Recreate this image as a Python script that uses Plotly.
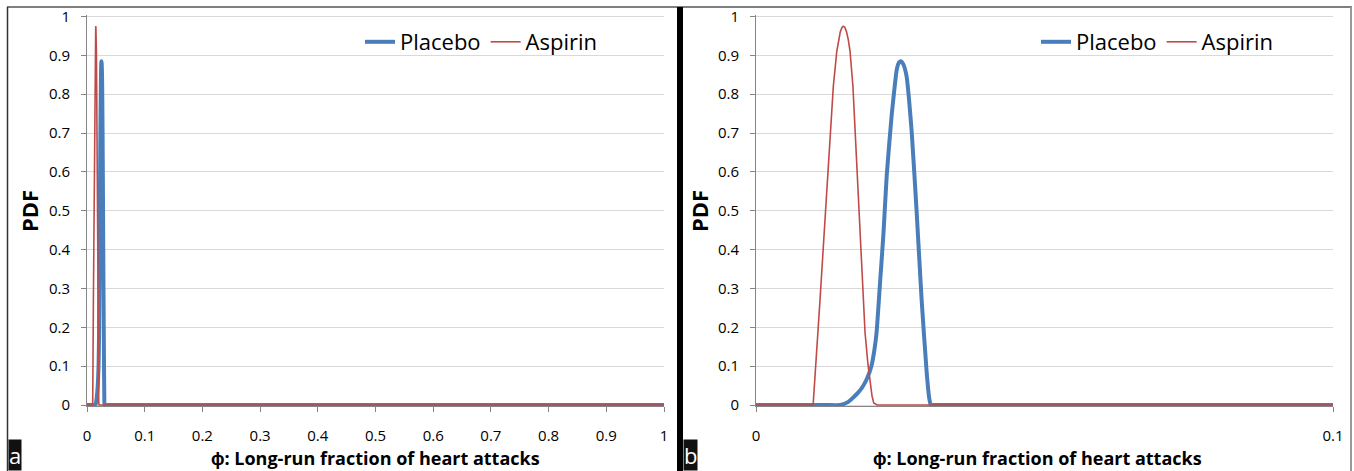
import plotly.graph_objects as go

# ---- data ----
placebo_x = [0, 0.005, 0.0120, 0.0146, 0.0160, 0.0169, 0.0177, 0.0184, 0.0192, 0.0200, 0.0205,
             0.0209, 0.0215, 0.0221, 0.02265, 0.0235, 0.0240, 0.0244, 0.0248, 0.0251, 0.0255,
             0.0261, 0.0265, 0.0270, 0.02785, 0.0287, 0.02958, 0.0300, 0.0303, 0.0310,
             0.0330, 0.0500, 0.2, 0.5, 0.8, 1.0]
placebo_y = [0, 0, 0, 0, 0.008, 0.02, 0.032, 0.045, 0.067, 0.10, 0.14,
             0.187, 0.315, 0.444, 0.59, 0.744, 0.815, 0.864, 0.882, 0.885, 0.878,
             0.846, 0.79, 0.70, 0.495, 0.272, 0.084, 0.02, 0, 0,
             0, 0, 0, 0, 0, 0]

aspirin_x = [0, 0.0099, 0.0111, 0.0120, 0.0128, 0.0134, 0.0140, 0.0143, 0.0146, 0.0149,
             0.0151, 0.0154, 0.0157, 0.0160, 0.0163, 0.0168, 0.0172, 0.0180, 0.0189, 0.0194,
             0.0198, 0.0201, 0.0204, 0.0210, 1.0]
aspirin_y = [0, 0, 0.272, 0.486, 0.70, 0.82, 0.91, 0.94, 0.96, 0.972,
             0.975, 0.972, 0.96, 0.94, 0.91, 0.82, 0.70, 0.443, 0.186, 0.105,
             0.058, 0.024, 0.005, 0, 0]

series_names = ["Placebo", "Aspirin"]
x_title = "ϕ: Long-run fraction of heart attacks"
y_title = "PDF"
panel_labels = ["a", "b"]

BLUE = "#4a7ebb"
RED = "#be4b48"
FONT = "'Open Sans', sans-serif"
W, H = 1354, 471

def fx(px):
    return px / W

def fy(py):
    return (H - py) / H

fig = go.Figure()

for xa, ya, leg in [("x", "y", "legend"), ("x2", "y2", "legend2")]:
    fig.add_trace(go.Scatter(x=placebo_x, y=placebo_y, mode="lines", name=series_names[0],
                             line=dict(color=BLUE, width=4, shape="spline", smoothing=0.5),
                             xaxis=xa, yaxis=ya, legend=leg))
    fig.add_trace(go.Scatter(x=aspirin_x, y=aspirin_y, mode="lines", name=series_names[1],
                             line=dict(color=RED, width=1.6, shape="linear"),
                             xaxis=xa, yaxis=ya, legend=leg))

ydom = [fy(406.17), fy(15.33)]
axis_common = dict(showline=True, linecolor="#868686", linewidth=1, ticks="outside",
                   ticklen=5, tickcolor="#868686",
                   tickfont=dict(family=FONT, size=15, color="#000"),
                   zeroline=False, automargin=False)

fig.update_layout(
    width=W, height=H,
    margin=dict(l=0, r=0, t=0, b=0, autoexpand=False),
    paper_bgcolor="white", plot_bgcolor="white",
    xaxis=dict(domain=[fx(87), fx(664)], range=[0, 1], dtick=0.1, showgrid=False,
               ticklabelstandoff=11, **axis_common),
    yaxis=dict(domain=ydom, range=[-0.003, 1.003], dtick=0.1, tick0=0, showgrid=True,
               gridcolor="#d9d9d9", gridwidth=1, anchor="x", ticklabelstandoff=8, **axis_common),
    xaxis2=dict(domain=[fx(756), fx(1333)], range=[0, 0.1], dtick=0.1, showgrid=False,
                anchor="y2", ticklabelstandoff=11, **axis_common),
    yaxis2=dict(domain=ydom, range=[-0.003, 1.003], dtick=0.1, tick0=0, showgrid=True,
                gridcolor="#d9d9d9", gridwidth=1, anchor="x2", ticklabelstandoff=8, **axis_common),
    legend=dict(orientation="h", x=fx(360), y=fy(42), xanchor="left", yanchor="middle",
                bgcolor="rgba(0,0,0,0)", font=dict(family=FONT, size=22, color="#000"),
                itemwidth=30, tracegroupgap=0),
    legend2=dict(orientation="h", x=fx(1036), y=fy(42), xanchor="left", yanchor="middle",
                 bgcolor="rgba(0,0,0,0)", font=dict(family=FONT, size=22, color="#000"),
                 itemwidth=30, tracegroupgap=0),
    showlegend=True,
)

annotations = []
for cx in (375, 1037):
    annotations.append(dict(text="<b>" + x_title + "</b>", x=fx(cx), y=fy(458), xref="paper",
                            yref="paper", showarrow=False, xanchor="center", yanchor="middle",
                            font=dict(family=FONT, size=18, color="#000")))
for cx in (29, 699):
    annotations.append(dict(text="<b>" + y_title + "</b>", x=fx(cx), y=fy(211), xref="paper",
                            yref="paper", showarrow=False, xanchor="center", yanchor="middle",
                            textangle=-90, font=dict(family=FONT, size=22, color="#000")))
for lab, lx in zip(panel_labels, (8, 683)):
    annotations.append(dict(text=lab, x=fx(lx), y=0, xref="paper", yref="paper",
                            showarrow=False, xanchor="left", yanchor="bottom",
                            bgcolor="#111", borderpad=0,
                            font=dict(family=FONT, size=22, color="white")))
fig.update_layout(annotations=annotations)

shapes = [
    dict(type="line", xref="paper", yref="paper", x0=fx(7), x1=fx(1352), y0=fy(7), y1=fy(7),
         line=dict(color="#555", width=1.5)),
    dict(type="line", xref="paper", yref="paper", x0=fx(7.5), x1=fx(7.5), y0=fy(7), y1=0,
         line=dict(color="#333", width=1.5)),
    dict(type="line", xref="paper", yref="paper", x0=fx(1351), x1=fx(1351), y0=fy(7), y1=0,
         line=dict(color="#999", width=2)),
    dict(type="rect", xref="paper", yref="paper", x0=fx(677), x1=fx(683), y0=0, y1=fy(7),
         fillcolor="#000", line=dict(width=0)),
]
fig.update_layout(shapes=shapes)

fig.write_html("out.html")
